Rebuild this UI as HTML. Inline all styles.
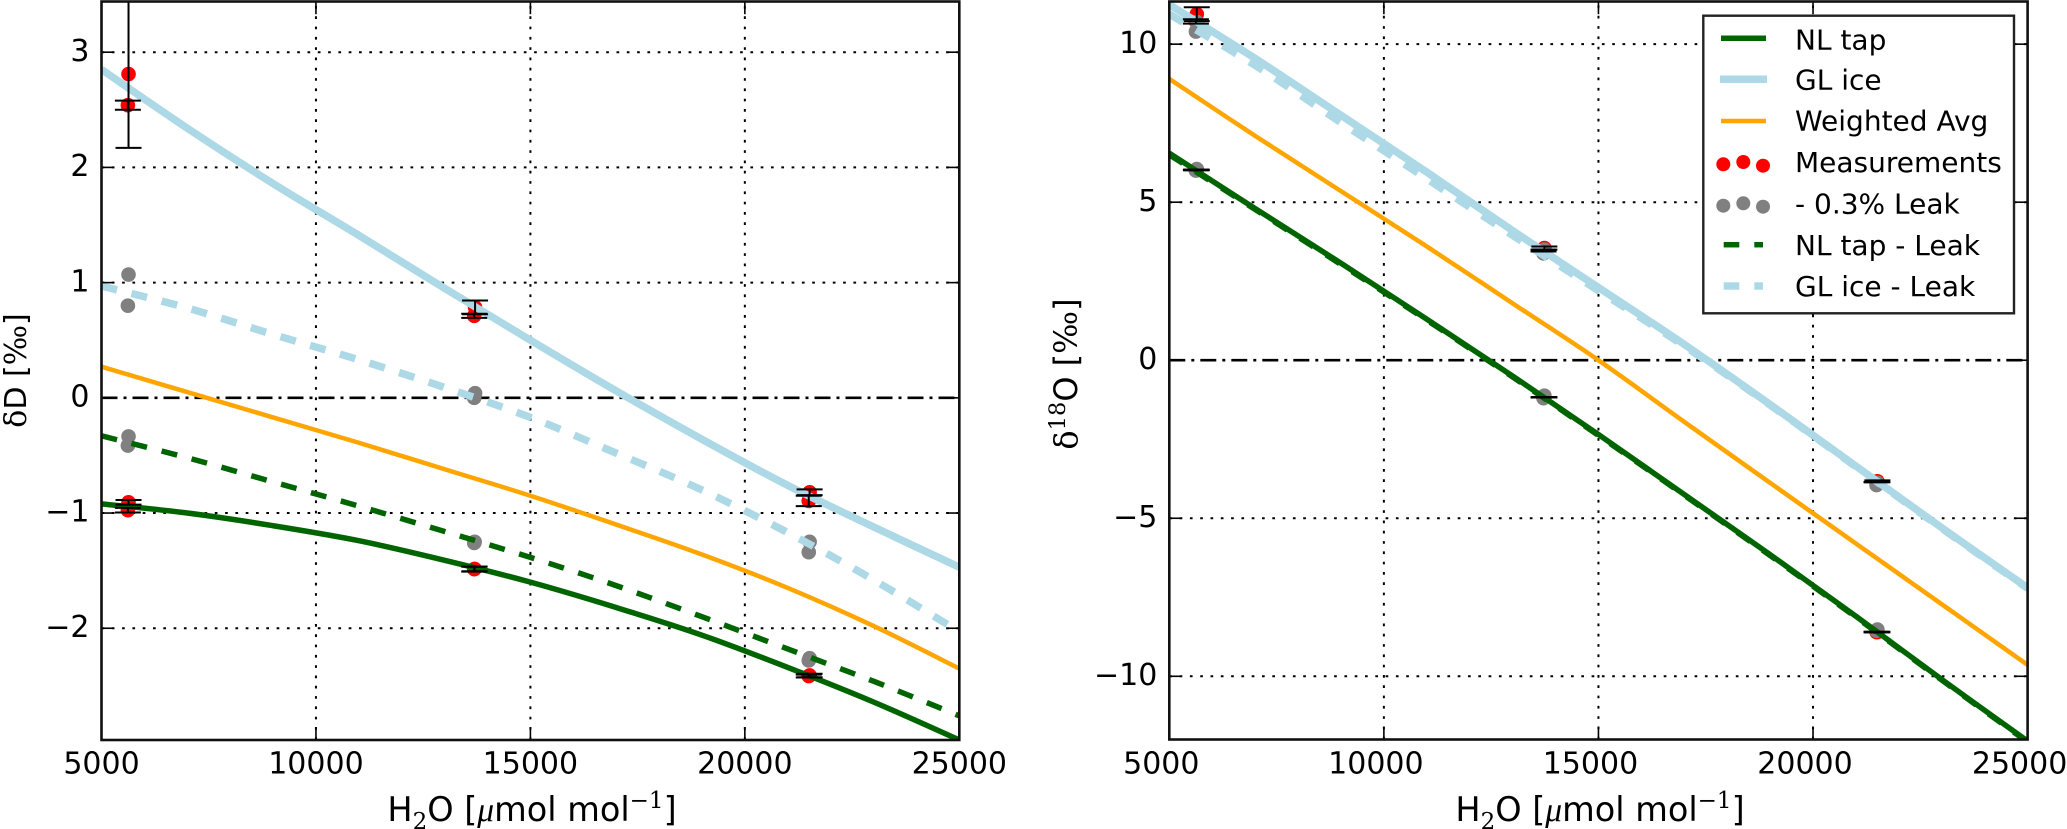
<!DOCTYPE html>
<html lang="en">
<head>
<meta charset="utf-8">
<title>Isotope calibration curves</title>
<style>
html,body{margin:0;padding:0;background:#fff;width:2067px;height:829px;overflow:hidden}
svg{display:block}
text{font-family:"DejaVu Sans","Liberation Sans",sans-serif;fill:#000}
</style>
</head>
<body>
<svg id="figure" xmlns="http://www.w3.org/2000/svg" width="2067" height="829" viewBox="0 0 2067 829">
  <defs>
    <clipPath id="clip-left"><rect x="101.5" y="1" width="857.8" height="739"/></clipPath>
    <clipPath id="clip-right"><rect x="1169.3" y="1.5" width="858.3" height="738"/></clipPath>
  </defs>
  <rect width="2067" height="829" fill="#fff"/>
  <g id="left-panel"></g>
  <g id="right-panel"></g>

  <text x="532" y="821" text-anchor="middle" font-size="33.5">H<tspan dy="8" font-size="23" style="font-family:'DejaVu Serif',serif">2</tspan><tspan dy="-8">O [</tspan><tspan style="font-family:'Liberation Serif',serif;font-style:italic">μ</tspan>mol mol<tspan dy="-13" font-size="23" style="font-family:'DejaVu Serif',serif">−1</tspan><tspan dy="13">]</tspan></text>
  <text x="1600" y="821" text-anchor="middle" font-size="33.5">H<tspan dy="8" font-size="23" style="font-family:'DejaVu Serif',serif">2</tspan><tspan dy="-8">O [</tspan><tspan style="font-family:'Liberation Serif',serif;font-style:italic">μ</tspan>mol mol<tspan dy="-13" font-size="23" style="font-family:'DejaVu Serif',serif">−1</tspan><tspan dy="13">]</tspan></text>
  <text transform="translate(26,370.5) rotate(-90)" text-anchor="middle" font-size="30"><tspan style="font-family:'DejaVu Serif',serif">δ</tspan>D [<tspan style="font-family:'DejaVu Serif',serif">‰</tspan>]</text>
  <text transform="translate(1077,374) rotate(-90)" text-anchor="middle" font-size="32"><tspan style="font-family:'DejaVu Serif',serif">δ</tspan><tspan dy="-12" font-size="22.5" style="font-family:'DejaVu Serif',serif">18</tspan><tspan dy="12">O [</tspan><tspan style="font-family:'DejaVu Serif',serif">‰</tspan>]</text>

  <g id="legend">
    <rect x="1703.3" y="15.7" width="310.7" height="297.6" fill="#fff" stroke="#222" stroke-width="2.4"/>
    <g>
      <line x1="1721" x2="1766" y1="38.3" y2="38.3" stroke="#006400" stroke-width="5.5"/>
      <text x="1795" y="49.3" font-size="28">NL tap</text>
    </g>
    <g>
      <line x1="1720" x2="1767" y1="79.3" y2="79.3" stroke="#add8e6" stroke-width="7.5"/>
      <text x="1795" y="89.3" font-size="28">GL ice</text>
    </g>
    <g>
      <line x1="1721" x2="1766" y1="121" y2="121" stroke="#ffa500" stroke-width="4.5"/>
      <text x="1795" y="130.7" font-size="28">Weighted Avg</text>
    </g>
    <g>
      <circle cx="1723.3" cy="164.3" r="7" fill="#f00"/>
      <circle cx="1743.3" cy="162" r="7" fill="#f00"/>
      <circle cx="1763" cy="165.7" r="7" fill="#f00"/>
      <text x="1795" y="172" font-size="28">Measurements</text>
    </g>
    <g>
      <circle cx="1723.3" cy="205.7" r="7" fill="#808080"/>
      <circle cx="1743.3" cy="203.3" r="7" fill="#808080"/>
      <circle cx="1763" cy="206.7" r="7" fill="#808080"/>
      <text x="1795" y="213.3" font-size="28">- 0.3% Leak</text>
    </g>
    <g>
      <line x1="1723.7" x2="1739.3" y1="244.7" y2="244.7" stroke="#006400" stroke-width="5.5"/>
      <line x1="1754.3" x2="1763" y1="244.7" y2="244.7" stroke="#006400" stroke-width="5.5"/>
      <text x="1795" y="255" font-size="28">NL tap - Leak</text>
    </g>
    <g>
      <line x1="1723.7" x2="1739.3" y1="286" y2="286" stroke="#add8e6" stroke-width="7.5"/>
      <line x1="1754.3" x2="1763" y1="286" y2="286" stroke="#add8e6" stroke-width="7.5"/>
      <text x="1795" y="296" font-size="28">GL ice - Leak</text>
    </g>
  </g>
</svg>
<script>
// Shared curve sample positions
const curveX = [5000, 7000, 9000, 11000, 13000, 15000, 17000, 19000, 21000, 23000, 25000];

// Left panel (delta D) curves
const dNlTap = [-0.92, -1.0, -1.11, -1.24, -1.41, -1.60, -1.82, -2.06, -2.34, -2.64, -2.97];
const dGlIce = [2.85, 2.34, 1.86, 1.41, 0.95, 0.5, 0.06, -0.36, -0.76, -1.12, -1.47];
const dWeighted = [0.27, 0.05, -0.17, -0.39, -0.62, -0.85, -1.1, -1.36, -1.65, -1.98, -2.35];
const dNlLeak = [-0.33, -0.52, -0.73, -0.94, -1.16, -1.385, -1.63, -1.9, -2.18, -2.46, -2.76];
const dGlLeak = [0.97, 0.78, 0.55, 0.33, 0.09, -0.17, -0.48, -0.8, -1.17, -1.58, -2.03];

// Left panel points
const dMeasX = [5630, 5615, 13710, 13690, 21510, 21490, 5630, 5615, 13700, 13690, 21510, 21490];
const dMeasY = [2.81, 2.54, 0.785, 0.712, -0.82, -0.895, -0.907, -0.975, -1.485, -1.487, -2.41, -2.415];
const dMeasErr = [0.64, 0.04, 0.06, 0.018, 0.025, 0.045, 0.02, 0.02, 0.02, 0.022, 0.015, 0.012];
const dLeakX = [5630, 5615, 13710, 13690, 21510, 21490, 5630, 5615, 13700, 13690, 21510, 21490];
const dLeakY = [1.07, 0.8, 0.04, 0.0, -1.25, -1.34, -0.335, -0.415, -1.25, -1.26, -2.26, -2.28];

// Right panel (delta 18O) curves
const oNlTap = [6.55, 4.8, 3.07, 1.3, -0.5, -2.35, -4.25, -6.15, -8.1, -10.1, -12.05];
const oGlIce = [11.25, 9.55, 7.75, 5.95, 4.1, 2.3, 0.5, -1.4, -3.35, -5.3, -7.2];
const oWeighted = [8.9, 7.1, 5.35, 3.6, 1.8, 0.0, -1.95, -3.88, -5.8, -7.72, -9.64];
const oNlLeak = [6.5, 4.77, 3.03, 1.27, -0.53, -2.38, -4.27, -6.18, -8.13, -10.12, -12.08];
const oGlLeak = [10.95, 9.33, 7.52, 5.74, 3.95, 2.2, 0.45, -1.42, -3.37, -5.32, -7.22];

// Right panel points
const oMeasX = [5640, 5620, 13740, 13720, 21500, 21480, 5640, 5620, 13740, 13720, 21500, 21480];
const oMeasY = [10.95, 10.72, 3.55, 3.47, -3.83, -3.855, 6.02, 6.02, -1.17, -1.175, -8.6, -8.6];
const oMeasErr = [0.22, 0.07, 0.05, 0.03, 0.03, 0.005, 0.01, 0.01, 0.008, 0.005, 0.01, 0.01];
const oLeakX = [5640, 5620, 13740, 13720, 21500, 21480, 5640, 5620, 13740, 13720, 21500, 21480];
const oLeakY = [10.7, 10.4, 3.5, 3.38, -3.88, -3.95, 6.05, 6.0, -1.12, -1.2, -8.52, -8.56];

// Tick labels
const xTicks = [5000, 10000, 15000, 20000, 25000];
const xTickText = ['5000', '10000', '15000', '20000', '25000'];
const dYTicks = [-2, -1, 0, 1, 2, 3];
const dYTickText = ['−2', '−1', '0', '1', '2', '3'];
const oYTicks = [-10, -5, 0, 5, 10];
const oYTickText = ['−10', '−5', '0', '5', '10'];

const NS = 'http://www.w3.org/2000/svg';
const BLACK = '#000';

function mk(parent, tag, attrs) {
  const node = document.createElementNS(NS, tag);
  for (const k in attrs) node.setAttribute(k, attrs[k]);
  parent.appendChild(node);
  return node;
}

// Smooth path through the sampled curve values
function smoothPath(pts) {
  let d = 'M' + pts[0][0].toFixed(2) + ' ' + pts[0][1].toFixed(2);
  for (let i = 0; i < pts.length - 1; i++) {
    const p0 = pts[Math.max(i - 1, 0)];
    const p1 = pts[i];
    const p2 = pts[i + 1];
    const p3 = pts[Math.min(i + 2, pts.length - 1)];
    const c1x = p1[0] + (p2[0] - p0[0]) / 6;
    const c1y = p1[1] + (p2[1] - p0[1]) / 6;
    const c2x = p2[0] - (p3[0] - p1[0]) / 6;
    const c2y = p2[1] - (p3[1] - p1[1]) / 6;
    d += 'C' + c1x.toFixed(2) + ' ' + c1y.toFixed(2) + ' ' + c2x.toFixed(2) + ' ' + c2y.toFixed(2) + ' ' + p2[0].toFixed(2) + ' ' + p2[1].toFixed(2);
  }
  return d;
}

function drawPanel(cfg) {
  const root = document.getElementById(cfg.id);
  const sx = v => cfg.px0 + (v - cfg.xMin) / (cfg.xMax - cfg.xMin) * (cfg.px1 - cfg.px0);
  const sy = v => cfg.py0 + (cfg.yMax - v) / (cfg.yMax - cfg.yMin) * (cfg.py1 - cfg.py0);

  // background grid
  cfg.xTicks.forEach((t, i) => {
    if (t === cfg.xMin || t === cfg.xMax) return;
    const g = mk(root, 'line', {x1: sx(t), x2: sx(t), y1: cfg.py1, y2: cfg.py0, stroke: BLACK, 'stroke-width': 2, 'stroke-dasharray': '2.7 7.6'});
    
    
  });
  cfg.yTicks.forEach(t => {
    if (t === 0) return;
    const g = mk(root, 'line', {x1: cfg.px0, x2: cfg.px1, y1: sy(t), y2: sy(t), stroke: BLACK, 'stroke-width': 2, 'stroke-dasharray': '2.7 7.6'});
    
    
  });

  const plot = mk(root, 'g', {'clip-path': 'url(#' + cfg.clip + ')'});
  
  

  // zero reference
  const zero = mk(plot, 'line', {x1: cfg.px0, x2: cfg.px1, y1: sy(0), y2: sy(0), stroke: BLACK, 'stroke-width': 2.6, 'stroke-dasharray': '16 6 3 6'});
  
  

  // points
  cfg.measX.forEach((x, i) => {
    const c = mk(plot, 'circle', {cx: sx(x), cy: sy(cfg.measY[i]), r: 7.3, fill: '#f00'});
    
    
  });
  cfg.leakX.forEach((x, i) => {
    const c = mk(plot, 'circle', {cx: sx(x), cy: sy(cfg.leakY[i]), r: 7.3, fill: '#808080'});
    
    
  });

  // curves
  cfg.curves.forEach(cv => {
    const pts = cfg.curveX.map((x, i) => [sx(x), sy(cv.values[i])]);
    const attrs = {d: smoothPath(pts), fill: 'none', stroke: cv.color, 'stroke-width': cv.width};
    if (cv.dash) attrs['stroke-dasharray'] = cv.dash;
    const p = mk(plot, 'path', attrs);
    
    
  });

  // error bars
  cfg.measX.forEach((x, i) => {
    const hi = cfg.measY[i] + cfg.measErr[i];
    const lo = cfg.measY[i] - cfg.measErr[i];
    const g = mk(plot, 'g', {stroke: BLACK, 'stroke-width': 2});
    
    
    mk(g, 'line', {x1: sx(x), x2: sx(x), y1: sy(hi), y2: sy(lo)});
    mk(g, 'line', {x1: sx(x) - 13, x2: sx(x) + 13, y1: sy(hi), y2: sy(hi)});
    mk(g, 'line', {x1: sx(x) - 13, x2: sx(x) + 13, y1: sy(lo), y2: sy(lo)});
  });

  // ticks
  cfg.xTicks.forEach((t, i) => {
    if (t !== cfg.xMin && t !== cfg.xMax) {
      const a = mk(root, 'line', {x1: sx(t), x2: sx(t), y1: cfg.py1, y2: cfg.py1 - 12.7, stroke: BLACK, 'stroke-width': 1.6});
      
      
      const b = mk(root, 'line', {x1: sx(t), x2: sx(t), y1: cfg.py0, y2: cfg.py0 + 12.7, stroke: BLACK, 'stroke-width': 1.6});
      
      
    }
    const label = mk(root, 'text', {x: sx(t) + cfg.xLabelShift, y: 773.3, 'text-anchor': 'middle', 'font-size': 30});
    label.textContent = cfg.xTickText[i];
    
    
  });
  cfg.yTicks.forEach((t, i) => {
    const a = mk(root, 'line', {x1: cfg.px0, x2: cfg.px0 + 12.7, y1: sy(t), y2: sy(t), stroke: BLACK, 'stroke-width': 1.6});
    
    
    const b = mk(root, 'line', {x1: cfg.px1, x2: cfg.px1 - 12.7, y1: sy(t), y2: sy(t), stroke: BLACK, 'stroke-width': 1.6});
    
    
    const label = mk(root, 'text', {x: cfg.px0 - 12, y: sy(t) + 8.7, 'text-anchor': 'end', 'font-size': 30});
    label.textContent = cfg.yTickText[i];
    
    
  });

  // spines
  const frame = mk(root, 'rect', {x: cfg.px0, y: cfg.py0, width: cfg.px1 - cfg.px0, height: cfg.py1 - cfg.py0, fill: 'none', stroke: '#111', 'stroke-width': 2.6});
  
  
}

drawPanel({
  id: 'left-panel', clip: 'clip-left',
  px0: 101.5, px1: 959.3, py0: 1.5, py1: 740,
  xMin: 5000, xMax: 25000, yMin: -2.97, yMax: 3.44,
  xLabelShift: 0,
  curveX: curveX, xTicks: xTicks, xTickText: xTickText, yTicks: dYTicks, yTickText: dYTickText,
  measX: dMeasX, measY: dMeasY, measErr: dMeasErr, leakX: dLeakX, leakY: dLeakY,
  curves: [
    {name: 'nl-tap-leak-curve', values: dNlLeak, color: '#006400', width: 5.5, dash: '16 15'},
    {name: 'gl-ice-leak-curve', values: dGlLeak, color: '#add8e6', width: 7.5, dash: '16 15'},
    {name: 'nl-tap-curve', values: dNlTap, color: '#006400', width: 5.5},
    {name: 'gl-ice-curve', values: dGlIce, color: '#add8e6', width: 7.5},
    {name: 'weighted-avg-curve', values: dWeighted, color: '#ffa500', width: 4.5}
  ]
});

drawPanel({
  id: 'right-panel', clip: 'clip-right',
  px0: 1169.3, px1: 2027.6, py0: 1.5, py1: 739.5,
  xMin: 5000, xMax: 25000, yMin: -12, yMax: 11.35,
  xLabelShift: -8,
  curveX: curveX, xTicks: xTicks, xTickText: xTickText, yTicks: oYTicks, yTickText: oYTickText,
  measX: oMeasX, measY: oMeasY, measErr: oMeasErr, leakX: oLeakX, leakY: oLeakY,
  curves: [
    {name: 'nl-tap-leak-curve', values: oNlLeak, color: '#006400', width: 5.5, dash: '16 15'},
    {name: 'gl-ice-leak-curve', values: oGlLeak, color: '#add8e6', width: 7.5, dash: '16 15'},
    {name: 'nl-tap-curve', values: oNlTap, color: '#006400', width: 5.5},
    {name: 'gl-ice-curve', values: oGlIce, color: '#add8e6', width: 7.5},
    {name: 'weighted-avg-curve', values: oWeighted, color: '#ffa500', width: 4.5}
  ]
});

// keep legend above the panels
document.getElementById('figure').appendChild(document.getElementById('legend'));
</script>
</body>
</html>
